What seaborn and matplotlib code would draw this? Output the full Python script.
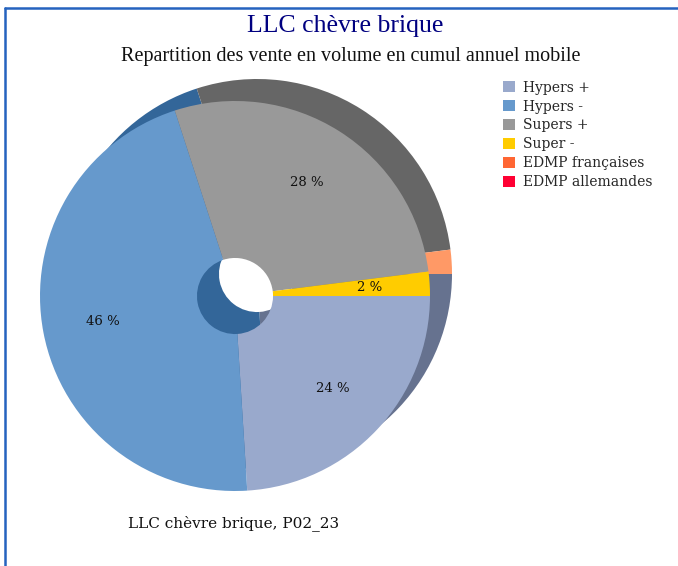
import matplotlib
matplotlib.use("Agg")
import matplotlib.pyplot as plt
import seaborn as sns
from matplotlib.lines import Line2D

sns.set_style("white")

# data
segments = ["Hypers +", "Hypers -", "Supers +", "Super -", "EDMP françaises", "EDMP allemandes"]
shares = [24, 46, 28, 2, 0, 0]
colors = ["#99A9CC", "#6699CC", "#999999", "#FFCC00", "#FF6633", "#FF0033"]
shadow_colors = ["#66728F", "#336699", "#666666", "#FF9966", "#CC5533", "#CC0022"]

title = "LLC chèvre brique"
subtitle = "Repartition des vente en volume en cumul annuel mobile"
footer = "LLC chèvre brique, P02_23"

W, H = 678, 566
fig = plt.figure(figsize=(W / 100, H / 100), dpi=100)

# pie axes: pie centre at pixel (235, 296), radius 195 px -> one data unit
r_px = 195.0
cx, cy = 235.0, 296.0
x0, x1, y0, y1 = 20, 480, 50, 510
ax = fig.add_axes([x0 / W, 1 - y1 / H, (x1 - x0) / W, (y1 - y0) / H])
ax.set_aspect("equal")
ax.axis("off")

hole = 0.195
off = 22 / r_px

# shadow / depth layer
ax.pie(shares, colors=shadow_colors, startangle=0, counterclock=False,
       center=(off, off), radius=1,
       wedgeprops=dict(width=1 - hole, linewidth=0), frame=False)

wedges, texts, autotexts = ax.pie(
    shares, colors=colors, startangle=0, counterclock=False,
    center=(0, 0), radius=1,
    autopct=lambda p: f"{p:.0f} %" if p >= 1 else "",
    pctdistance=0.69,
    wedgeprops=dict(width=1 - hole, linewidth=0), frame=False,
    textprops=dict(family="DejaVu Serif", fontsize=9.5, color="#111111"))
ax.set_xlim((x0 - cx) / r_px, (x1 - cx) / r_px)
ax.set_ylim((cy - y1) / r_px, (cy - y0) / r_px)

# legend
handles = [plt.Rectangle((0, 0), 1, 1, facecolor=c, edgecolor="none") for c in colors]
fig.legend(handles, segments, loc="upper left", bbox_to_anchor=(493 / W, 1 - 71 / H),
           frameon=False, prop=dict(family="DejaVu Serif", size=10),
           handlelength=0.85, handleheight=0.85, handletextpad=0.6,
           labelspacing=0.35, borderpad=0.2)

# texts
fig.text(345 / W, 1 - 26 / H, title, ha="center", va="center",
         family="Liberation Serif", fontsize=18.5, color="#000080")
fig.text(351 / W, 1 - 56 / H, subtitle, ha="center", va="center",
         family="Liberation Serif", fontsize=14.5, color="#111111")
fig.text(234 / W, 1 - 523 / H, footer, ha="center", va="center",
         family="DejaVu Serif", fontsize=11, color="#111111")

# blue frame on the left and top
fig.add_artist(Line2D([5 / W, 5 / W], [0, 1 - 8 / H], transform=fig.transFigure,
                      color="#2563BF", linewidth=1.8))
fig.add_artist(Line2D([5 / W, 1], [1 - 8 / H, 1 - 8 / H], transform=fig.transFigure,
                      color="#2563BF", linewidth=1.8))

fig.savefig("out.png", dpi=100)
